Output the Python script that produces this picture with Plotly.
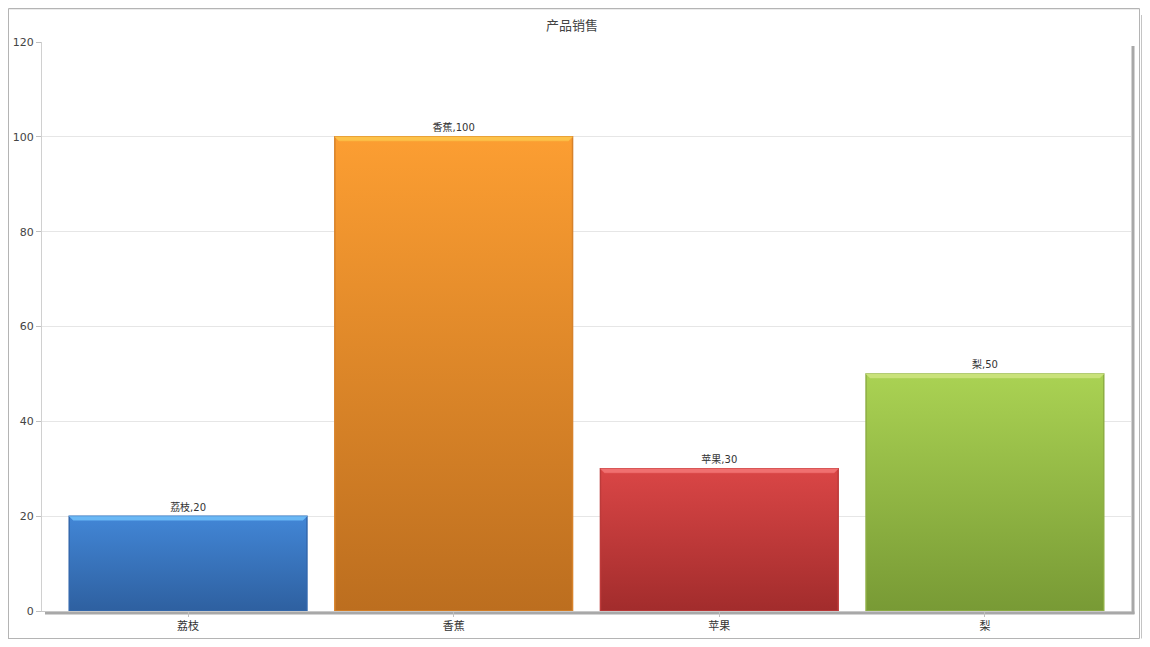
import plotly.graph_objects as go

# ---- data ----
categories = ["荔枝", "香蕉", "苹果", "梨"]
values = [20, 100, 30, 50]
y_ticks = [0, 20, 40, 60, 80, 100, 120]
title_text = "产品销售"

# ---- styles ----
top_colors = ["#4286d6", "#fc9e32", "#da4646", "#aad253"]
bottom_colors = ["#2e60a0", "#bc6e1f", "#a22c2c", "#789a35"]
mid_colors = ["#3873bb", "#dc8629", "#bf3a3a", "#91b544"]
edge_colors = ["#3468ad", "#d7822a", "#bd3b3b", "#8eae45"]
bevel_colors = ["#6ab8f5", "#fdc24a", "#f07070", "#c9e27a"]

FONT = "DejaVu Sans, Noto Sans CJK SC, sans-serif"
OFF = 8  # browser body margin (page px)
W, H = 1150 - 2 * OFF, 647 - 2 * OFF
plot_left, plot_right, plot_top, plot_bottom = 42, 1131, 42, 611  # page px
L = plot_left - OFF
T = plot_top - OFF
plot_w = plot_right - plot_left
plot_h = plot_bottom - plot_top
R = W - L - plot_w
B = H - T - plot_h
bar_w = 0.895
xr = [-0.55, 3.55]
ymax = 120

fig = go.Figure()

fig.add_trace(go.Bar(
    x=list(range(len(categories))), y=values,
    width=bar_w,
    marker=dict(color=mid_colors, line=dict(width=0)),
    hoverinfo="skip",
    showlegend=False,
))

# gradient bodies and top bevels, derived from the data
px_per_unit_x = plot_w / (xr[1] - xr[0])
px_per_unit_y = plot_h / ymax
bevel_h = 4 / px_per_unit_y
bevel_in = 4 / px_per_unit_x
label_pad = 3 / px_per_unit_y
for i, v in enumerate(values):
    x0, x1 = i - bar_w / 2, i + bar_w / 2
    fig.add_trace(go.Scatter(
        x=[x0, x1, x1, x0, x0], y=[0, 0, v, v, 0],
        mode="lines", fill="toself",
        line=dict(color=edge_colors[i], width=1.5),
        fillgradient=dict(type="vertical",
                          colorscale=[[0, bottom_colors[i]], [1, top_colors[i]]]),
        hoverinfo="skip", showlegend=False,
    ))
    fig.add_trace(go.Scatter(
        x=[x0, x1, x1 - bevel_in, x0 + bevel_in, x0],
        y=[v, v, v - bevel_h, v - bevel_h, v],
        mode="lines", fill="toself",
        line=dict(color=bevel_colors[i], width=0.5),
        fillcolor=bevel_colors[i],
        hoverinfo="skip", showlegend=False,
    ))

# data labels above the bars
fig.add_trace(go.Scatter(
    x=list(range(len(categories))), y=[v + label_pad for v in values],
    mode="text",
    text=[f"{c},{v}" for c, v in zip(categories, values)],
    textposition="top center",
    textfont=dict(size=10, color="#333333", family=FONT),
    cliponaxis=False,
    hoverinfo="skip", showlegend=False,
))

# shapes: outer frame and plot-area shadow (page px -> paper coords)
def px_x(p):
    return (p - plot_left) / plot_w

def px_y(p):
    return (plot_bottom - p) / plot_h

shapes = [
    dict(type="line", xref="paper", yref="paper",
         x0=px_x(8.5), x1=px_x(8.5), y0=px_y(639.5), y1=px_y(8.5),
         line=dict(color="#b4b4b4", width=1), layer="below"),
    dict(type="line", xref="paper", yref="paper",
         x0=px_x(8.5), x1=px_x(1139.5), y0=px_y(8.5), y1=px_y(8.5),
         line=dict(color="#b4b4b4", width=1.5), layer="below"),
    dict(type="line", xref="paper", yref="paper",
         x0=px_x(8.5), x1=px_x(1139.5), y0=px_y(638.5), y1=px_y(638.5),
         line=dict(color="#b4b4b4", width=1), layer="below"),
    dict(type="line", xref="paper", yref="paper",
         x0=px_x(1139.5), x1=px_x(1139.5), y0=px_y(638.5), y1=px_y(8.5),
         line=dict(color="#b4b4b4", width=1), layer="below"),
    dict(type="line", xref="paper", yref="paper",
         x0=px_x(1141.5), x1=px_x(1141.5), y0=px_y(638.5), y1=px_y(15),
         line=dict(color="#c4c4c4", width=1), layer="below"),
    dict(type="line", xref="paper", yref="paper",
         x0=px_x(1133), x1=px_x(1133), y0=px_y(614), y1=px_y(46),
         line=dict(color="#a8a8a8", width=3), layer="below"),
    dict(type="line", xref="paper", yref="paper",
         x0=px_x(45), x1=px_x(1134.5), y0=px_y(613), y1=px_y(613),
         line=dict(color="#a8a8a8", width=3), layer="below"),
    dict(type="rect", xref="paper", yref="paper",
         x0=0, x1=1, y0=0, y1=1,
         fillcolor="white", line=dict(width=0), layer="below"),
]

fig.update_layout(
    width=W, height=H,
    margin=dict(l=L, r=R, t=T, b=B, pad=0, autoexpand=False),
    paper_bgcolor="white",
    plot_bgcolor="rgba(0,0,0,0)",
    title=dict(text=title_text, x=(572 - OFF) / W, xanchor="center",
               y=1 - (25 - OFF) / H, yanchor="middle",
               font=dict(size=13, color="#444444", family=FONT)),
    font=dict(family=FONT, size=11, color="#333333"),
    shapes=shapes,
    xaxis=dict(
        range=xr, tickmode="array", tickvals=list(range(len(categories))),
        ticktext=categories, showgrid=False, zeroline=False,
        showline=True, linecolor="#c8c8c8", linewidth=1,
        ticks="outside", ticklen=5, tickcolor="#c0c0c0",
        tickfont=dict(size=11, color="#333333", family=FONT),
        fixedrange=True, automargin=False,
    ),
    yaxis=dict(
        range=[0, ymax], tickmode="array", tickvals=y_ticks,
        showgrid=True, gridcolor="#e6e6e6", gridwidth=1,
        zeroline=False, showline=True, linecolor="#d0d0d0", linewidth=1,
        ticks="outside", ticklen=5, tickcolor="#c0c0c0",
        tickfont=dict(size=11, color="#444444", family=FONT),
        fixedrange=True, automargin=False,
    ),
)

fig.write_html("out.html")
